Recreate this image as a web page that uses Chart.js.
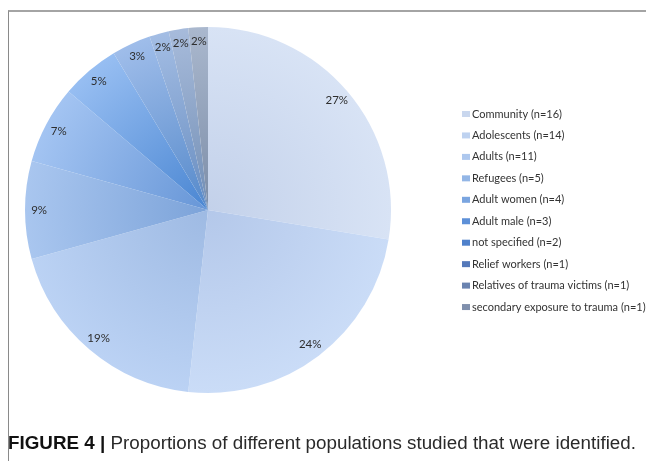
<!DOCTYPE html>
<html>
<head>
<meta charset="utf-8">
<script src="https://cdn.jsdelivr.net/npm/chart.js@4/dist/chart.umd.min.js"></script>
<style>
  html, body { margin: 0; padding: 0; background: #fff; }
  #wrap { position: relative; width: 646px; height: 461px; overflow: hidden; }
  #frame { position: absolute; left: 8px; top: 10px; width: 700px; height: 500px;
           border-left: 1px solid #8a8a8a; border-top: 2px solid #a4a4a4; box-sizing: border-box; }
  canvas { position: absolute; left: 0; top: 0; }
  #caption { position: absolute; left: 8px; top: 433px; white-space: nowrap; line-height: 20px;
             font-family: "Liberation Sans", Arial, sans-serif; font-size: 17.5px; color: #2a2a2a;
             transform-origin: 0 0; }
  #caption b { color: #111; }
</style>
</head>
<body>
<div id="wrap">
  <div id="frame"></div>
  <canvas id="c" width="646" height="461"></canvas>
  <div id="caption"><b>FIGURE 4 |</b> Proportions of different populations studied that were identified.</div>
</div>
<script>
// ---- data ----
const categories = [
  "Community (n=16)",
  "Adolescents (n=14)",
  "Adults (n=11)",
  "Refugees (n=5)",
  "Adult women (n=4)",
  "Adult male (n=3)",
  "not specified (n=2)",
  "Relief workers (n=1)",
  "Relatives of trauma victims (n=1)",
  "secondary exposure to trauma (n=1)"
];
const counts = [16, 14, 11, 5, 4, 3, 2, 1, 1, 1];
const percentLabels = ["27%", "24%", "19%", "9%", "7%", "5%", "3%", "2%", "2%", "2%"];

// ---- styles ----
const outerColors = ["#D8E3F5", "#CADCF7", "#BBD2F4", "#A9C6EF", "#A3C4F2", "#97BEF2", "#9FBDEA", "#A3BDE4", "#A7BBDB", "#AAB8CE"];
const innerColors = ["#C3D1EA", "#B4C8EA", "#9EBAE3", "#7CA3D9", "#6796D7", "#4A86D2", "#5589CA", "#678CBF", "#728EB4", "#7C8DA7"];
const legendColors = ["#C9D7EE", "#BED2F0", "#AEC8EE", "#93B6E6", "#7AA5E0", "#5D90D8", "#4F81CB", "#5579BA", "#6A83B0", "#8090AD"];

// fit caption width to reference
(function () {
  const cap = document.getElementById("caption");
  const w = cap.getBoundingClientRect().width;
  cap.style.transform = "scaleX(" + (628 / w) + ")";
})();

function sliceFill(ctx) {
  const i = ctx.dataIndex;
  const chart = ctx.chart;
  const ca = chart.chartArea;
  if (!ca) return outerColors[i];
  const cx = (ca.left + ca.right) / 2, cy = (ca.top + ca.bottom) / 2;
  const r = Math.min(ca.right - ca.left, ca.bottom - ca.top) / 2;
  const g = chart.ctx.createRadialGradient(cx, cy, 0, cx, cy, r);
  g.addColorStop(0, innerColors[i]);
  g.addColorStop(1, outerColors[i]);
  return g;
}

const pctLabelPlugin = {
  id: "pctLabels",
  afterDatasetsDraw(chart) {
    const ctx = chart.ctx;
    const meta = chart.getDatasetMeta(0);
    ctx.save();
    ctx.font = "11.5px Lato, 'Open Sans', sans-serif";
    ctx.fillStyle = "#2e2e2e";
    ctx.textAlign = "center";
    ctx.textBaseline = "middle";
    meta.data.forEach((arc, i) => {
      const p = arc.getProps(["x", "y", "startAngle", "endAngle", "outerRadius"], true);
      const mid = (p.startAngle + p.endAngle) / 2;
      const rr = p.outerRadius * 0.923;
      ctx.fillText(percentLabels[i], p.x + Math.cos(mid) * rr, p.y + Math.sin(mid) * rr);
    });
    ctx.restore();
  }
};

const legendPlugin = {
  id: "sideLegend",
  afterDraw(chart) {
    const ctx = chart.ctx;
    const labels = chart.data.labels;
    const x0 = 462, y0 = 114, step = 21.45;
    ctx.save();
    ctx.font = "11px Lato, 'Open Sans', sans-serif";
    ctx.textBaseline = "middle";
    ctx.textAlign = "left";
    labels.forEach((lab, i) => {
      const y = y0 + i * step;
      ctx.fillStyle = legendColors[i];
      ctx.fillRect(x0, y - 3, 8, 6);
      ctx.fillStyle = "#333";
      ctx.fillText(lab, x0 + 10, y);
    });
    ctx.restore();
  }
};

new Chart(document.getElementById("c"), {
  type: "pie",
  data: {
    labels: categories,
    datasets: [{
      data: counts,
      backgroundColor: sliceFill,
      borderWidth: 0
    }]
  },
  options: {
    responsive: false,
    animation: false,
    layout: { padding: { left: 25, right: 255, top: 27, bottom: 68 } },
    plugins: {
      legend: { display: false },
      tooltip: { enabled: false }
    }
  },
  plugins: [pctLabelPlugin, legendPlugin]
});
</script>
</body>
</html>
